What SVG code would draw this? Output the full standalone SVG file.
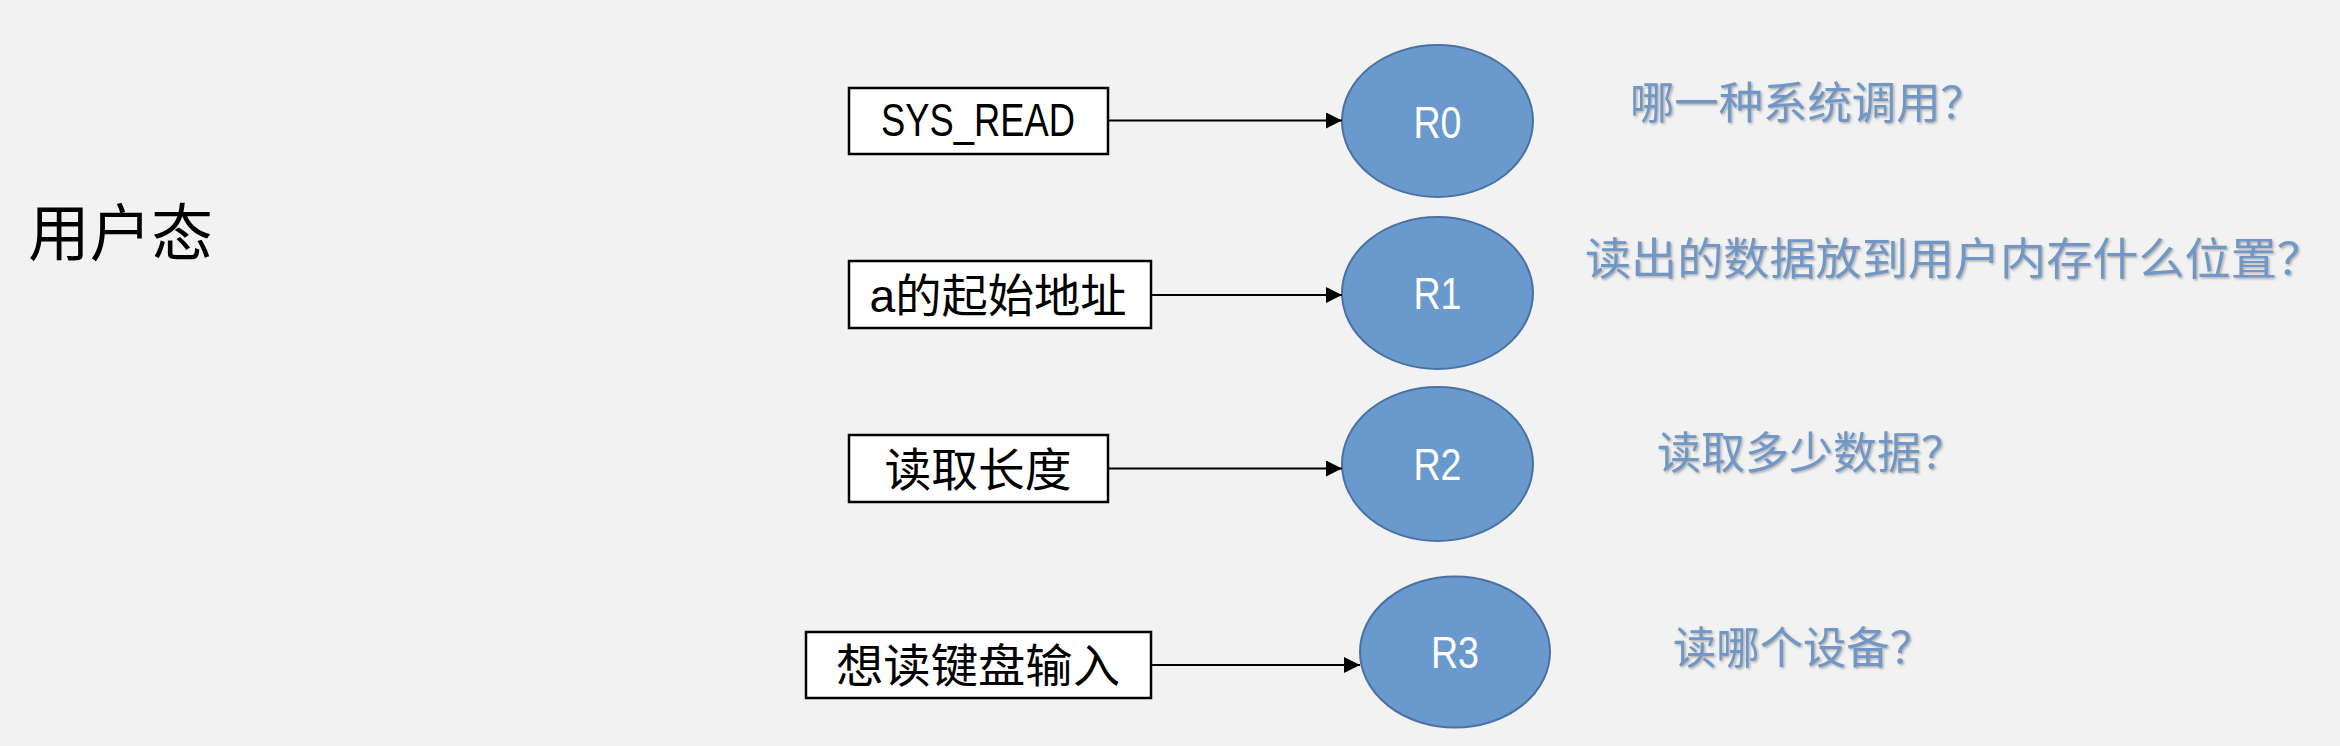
<svg xmlns="http://www.w3.org/2000/svg" width="2340" height="746" viewBox="0 0 2340 746">
<style>
.box{fill:#ffffff;stroke:#000000;stroke-width:2.5}
.reg{fill:#6999CD;stroke:#4A72A0;stroke-width:2}
.lbl{font-family:"Liberation Sans","Noto Sans CJK SC",sans-serif;font-size:46px;fill:#000000;text-anchor:middle}
.rl{font-family:"Liberation Sans",sans-serif;font-size:44px;fill:#ffffff;text-anchor:middle}
.q{font-family:"Noto Sans CJK SC",sans-serif;font-size:44px;fill:#7097C6;filter:url(#sh)}
.conn{stroke:#000000;stroke-width:2.2;fill:none;marker-end:url(#ah)}
.title{font-family:"Noto Sans CJK SC",sans-serif;font-size:62px;fill:#000000}
</style>
<defs>
<marker id="ah" markerUnits="userSpaceOnUse" markerWidth="17" markerHeight="16" refX="16" refY="8" orient="auto">
<path d="M0,0 L16,8 L0,16 Z" fill="#000000"/>
</marker>
<filter id="sh" x="-5%" y="-20%" width="110%" height="140%">
<feDropShadow dx="1.5" dy="1.5" stdDeviation="1.2" flood-color="#808080" flood-opacity="0.6"/>
</filter>
</defs>
<rect width="2340" height="746" fill="#F2F2F2"/>
<g id="title-user-mode">
<text class="title" x="28" y="256" textLength="185" lengthAdjust="spacingAndGlyphs">用户态</text>
</g>
<g id="box-sys-read">
<rect class="box" x="849" y="88" width="259" height="66"/>
<text class="lbl" x="978" y="136" textLength="194" lengthAdjust="spacingAndGlyphs">SYS_READ</text>
</g>
<g id="box-addr">
<rect class="box" x="849" y="261" width="302" height="67"/>
<text class="lbl" x="998" y="312" textLength="257" lengthAdjust="spacingAndGlyphs">a的起始地址</text>
</g>
<g id="box-len">
<rect class="box" x="849" y="435" width="259" height="67"/>
<text class="lbl" x="978" y="486" textLength="187" lengthAdjust="spacingAndGlyphs">读取长度</text>
</g>
<g id="box-kbd">
<rect class="box" x="806" y="632" width="345" height="66"/>
<text class="lbl" x="978" y="682" textLength="284" lengthAdjust="spacingAndGlyphs">想读键盘输入</text>
</g>
<g id="reg-r0">
<ellipse class="reg" cx="1437.5" cy="121" rx="95.5" ry="76"/>
<text class="rl" x="1437.5" y="138" textLength="48" lengthAdjust="spacingAndGlyphs">R0</text>
</g>
<g id="reg-r1">
<ellipse class="reg" cx="1437.5" cy="293" rx="95.5" ry="76"/>
<text class="rl" x="1437.5" y="309" textLength="48" lengthAdjust="spacingAndGlyphs">R1</text>
</g>
<g id="reg-r2">
<ellipse class="reg" cx="1437.5" cy="464" rx="95.5" ry="77"/>
<text class="rl" x="1437.5" y="480" textLength="48" lengthAdjust="spacingAndGlyphs">R2</text>
</g>
<g id="reg-r3">
<ellipse class="reg" cx="1455" cy="652" rx="95" ry="75.5"/>
<text class="rl" x="1455" y="668" textLength="48" lengthAdjust="spacingAndGlyphs">R3</text>
</g>
<g id="q0"><text class="q" x="1630" y="119" textLength="355" lengthAdjust="spacingAndGlyphs">哪一种系统调用？</text></g>
<g id="q1"><text class="q" x="1585" y="275" textLength="738" lengthAdjust="spacingAndGlyphs">读出的数据放到用户内存什么位置？</text></g>
<g id="q2"><text class="q" x="1657" y="469" textLength="308" lengthAdjust="spacingAndGlyphs">读取多少数据？</text></g>
<g id="q3"><text class="q" x="1673" y="664" textLength="260" lengthAdjust="spacingAndGlyphs">读哪个设备？</text></g>
<g id="connectors">
<line class="conn" x1="1108" y1="120.5" x2="1342" y2="120.5"/>
<line class="conn" x1="1151" y1="295" x2="1342" y2="295"/>
<line class="conn" x1="1108" y1="468.5" x2="1342" y2="468.5"/>
<line class="conn" x1="1151" y1="665" x2="1360" y2="665"/>
</g>
</svg>
